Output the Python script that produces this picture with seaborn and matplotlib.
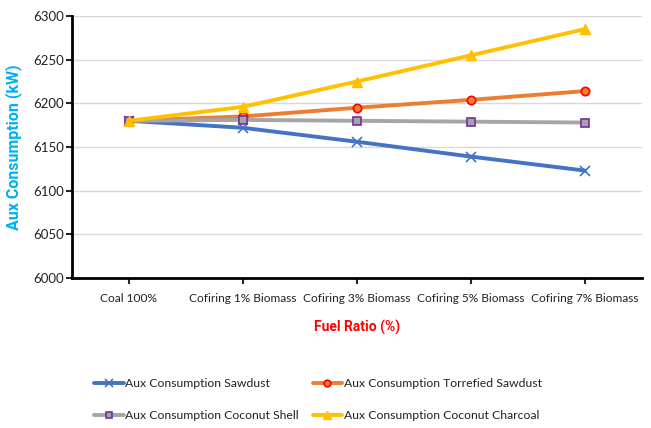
import matplotlib
matplotlib.use("Agg")
import matplotlib.pyplot as plt
import seaborn as sns
import pandas as pd

categories = ["Coal 100%", "Cofiring 1% Biomass", "Cofiring 3% Biomass",
              "Cofiring 5% Biomass", "Cofiring 7% Biomass"]
sawdust = [6180, 6172, 6156, 6139, 6123]
torrefied_sawdust = [6180, 6185, 6195, 6204, 6214]
coconut_shell = [6180, 6181, 6180, 6179, 6178]
coconut_charcoal = [6180, 6196, 6225, 6255, 6285]
y_ticks = [6000, 6050, 6100, 6150, 6200, 6250, 6300]

series = [
    ("Aux Consumption Sawdust", sawdust,
     dict(color="#4472C4", marker="x", mfc="#4472C4", mec="#4472C4", ms=7, mew=1.2)),
    ("Aux Consumption Torrefied Sawdust", torrefied_sawdust,
     dict(color="#ED7D31", marker="o", mfc="#ED7D31", mec="#FF0000", ms=6, mew=1.2)),
    ("Aux Consumption Coconut Shell", coconut_shell,
     dict(color="#A5A5A5", marker="s", mfc="#A5A5A5", mec="#7030A0", ms=6, mew=1.2)),
    ("Aux Consumption Coconut Charcoal", coconut_charcoal,
     dict(color="#FFC000", marker="^", mfc="#FFC000", mec="#FFC000", ms=7, mew=1)),
]

sns.set_theme(style="white")
plt.rcParams["font.family"] = ["Lato", "DejaVu Sans"]

fig = plt.figure(figsize=(6.51, 4.28), dpi=100)
ax = fig.add_axes([0.1106, 0.3505, 0.8754, 0.6121])

handles = {}
for name, vals, st in series:
    df = pd.DataFrame({"x": range(len(categories)), "y": vals})
    sns.lineplot(data=df, x="x", y="y", ax=ax, color=st["color"], lw=2.8,
                 marker=st["marker"], markersize=st["ms"],
                 markerfacecolor=st["mfc"], markeredgecolor=st["mec"],
                 markeredgewidth=st["mew"], label=name, legend=False)
    handles[name] = ax.lines[-1]

ax.set_xlim(-0.5, len(categories) - 0.5)
ax.set_ylim(6000, 6300)
ax.set_yticks(y_ticks)
ax.set_xticks(range(len(categories)))
ax.set_xticklabels(categories, fontsize=8.6, color="#222222")
ax.tick_params(axis="y", labelsize=9.5, labelcolor="#222222", length=4, width=1.5,
               direction="out", left=True, pad=2)
ax.tick_params(axis="x", length=4, width=1.5, direction="out", bottom=True, pad=7)
ax.grid(axis="y", color="#D9D9D9", lw=1)
ax.set_axisbelow(True)
for s in ["top", "right"]:
    ax.spines[s].set_visible(False)
for s in ["left", "bottom"]:
    ax.spines[s].set_color("black")
    ax.spines[s].set_linewidth(2)

ax.set_xlabel("Fuel Ratio (%)", color="#FF0000", fontsize=10, fontweight="bold",
              family=["Roboto", "DejaVu Sans"], labelpad=11)
ax.set_ylabel("Aux Consumption (kW)", color="#00B0F0", fontsize=11.5,
              fontweight="bold", family=["Roboto", "DejaVu Sans"], labelpad=8)

# two rows: Sawdust / Torrefied on top, Coconut Shell / Charcoal below
order = ["Aux Consumption Sawdust", "Aux Consumption Coconut Shell",
         "Aux Consumption Torrefied Sawdust", "Aux Consumption Coconut Charcoal"]
leg = fig.legend(handles=[handles[n] for n in order], labels=order, ncol=2,
                 loc="upper left", bbox_to_anchor=(0.128, 0.143), frameon=False,
                 fontsize=8.8, handlelength=2.4, columnspacing=1.1,
                 labelspacing=1.75, handletextpad=0.15, markerscale=0.8)
for t in leg.get_texts():
    t.set_color("#222222")

fig.savefig("out.png", dpi=100)
